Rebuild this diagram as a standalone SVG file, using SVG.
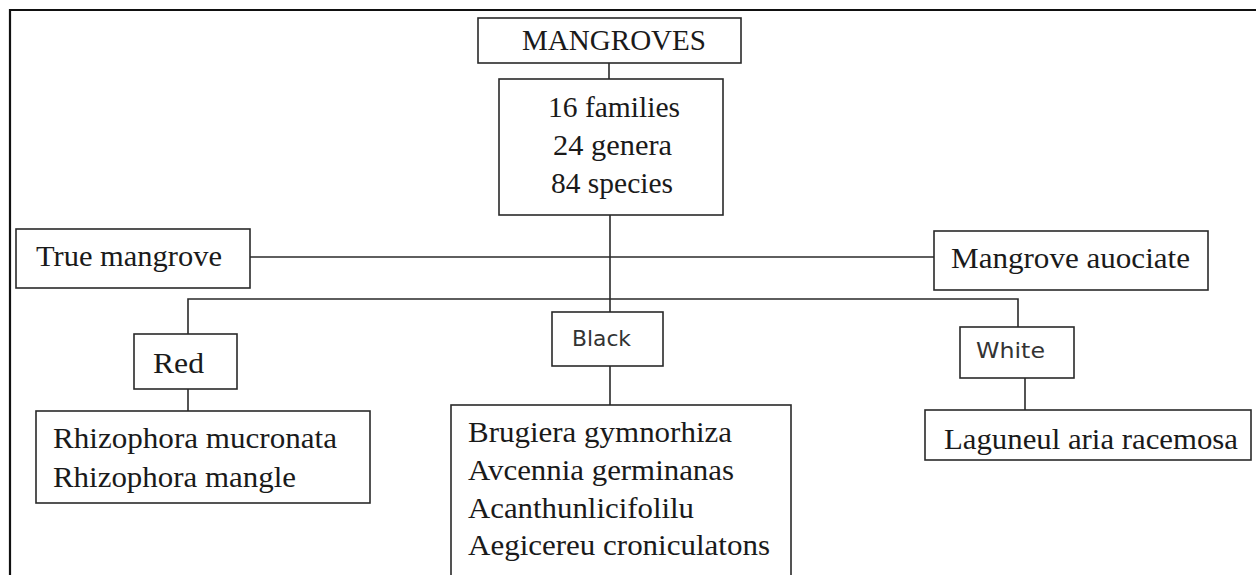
<svg xmlns="http://www.w3.org/2000/svg" width="1256" height="575" viewBox="0 0 1256 575">
<style>
  .box { fill: #fff; stroke: #2a2a2a; stroke-width: 1.6; }
  .conn line, .conn path { stroke: #2a2a2a; stroke-width: 1.6; fill: none; }
  .t { font-family: 'Liberation Serif', 'DejaVu Serif', serif; font-size: 30px; fill: #1a1a1a; }
  .s { font-family: 'DejaVu Sans', sans-serif; font-size: 22px; fill: #333; }
  .frame { stroke: #111; stroke-width: 2.2; fill: none; }
</style>
<rect width="1256" height="575" fill="#fff"/>
<path class="frame" d="M10 575 V10 H1256"/>

<g id="connectors" class="conn">
  <line x1="609" y1="63" x2="609" y2="79"/>
  <line x1="610" y1="215" x2="610" y2="312"/>
  <line x1="250" y1="257" x2="934" y2="257"/>
  <path d="M188 334 V299 H1018 V327"/>
  <line x1="188" y1="389" x2="188" y2="411"/>
  <line x1="610" y1="366" x2="610" y2="405"/>
  <line x1="1025" y1="378" x2="1025" y2="410"/>
</g>

<g id="node-mangroves">
  <rect class="box" x="478" y="18" width="263" height="45"/>
  <text class="t" x="522" y="50" textLength="184" lengthAdjust="spacingAndGlyphs">MANGROVES</text>
</g>

<g id="node-counts">
  <rect class="box" x="499" y="79" width="224" height="136"/>
  <text class="t" x="548" y="117" textLength="132" lengthAdjust="spacingAndGlyphs">16 families</text>
  <text class="t" x="553" y="155" textLength="119" lengthAdjust="spacingAndGlyphs">24 genera</text>
  <text class="t" x="551" y="193" textLength="122" lengthAdjust="spacingAndGlyphs">84 species</text>
</g>

<g id="node-true">
  <rect class="box" x="16" y="229" width="234" height="59"/>
  <text class="t" x="36" y="266" textLength="186" lengthAdjust="spacingAndGlyphs">True mangrove</text>
</g>

<g id="node-associate">
  <rect class="box" x="934" y="231" width="274" height="59"/>
  <text class="t" x="951" y="268" textLength="239" lengthAdjust="spacingAndGlyphs">Mangrove auociate</text>
</g>

<g id="node-red">
  <rect class="box" x="134" y="334" width="103" height="55"/>
  <text class="t" x="153" y="373" textLength="51" lengthAdjust="spacingAndGlyphs">Red</text>
</g>

<g id="node-black">
  <rect class="box" x="552" y="312" width="111" height="54"/>
  <text class="s" x="572" y="346" textLength="59" lengthAdjust="spacingAndGlyphs">Black</text>
</g>

<g id="node-white">
  <rect class="box" x="960" y="327" width="114" height="51"/>
  <text class="s" x="976" y="358" textLength="69" lengthAdjust="spacingAndGlyphs">White</text>
</g>

<g id="node-rhizophora">
  <rect class="box" x="36" y="411" width="334" height="92"/>
  <text class="t" x="53" y="448" textLength="284" lengthAdjust="spacingAndGlyphs">Rhizophora mucronata</text>
  <text class="t" x="53" y="487" textLength="243" lengthAdjust="spacingAndGlyphs">Rhizophora mangle</text>
</g>

<g id="node-black-species">
  <rect class="box" x="451" y="405" width="340" height="190"/>
  <text class="t" x="468" y="442" textLength="264" lengthAdjust="spacingAndGlyphs">Brugiera gymnorhiza</text>
  <text class="t" x="468" y="480" textLength="266" lengthAdjust="spacingAndGlyphs">Avcennia germinanas</text>
  <text class="t" x="468" y="518" textLength="226" lengthAdjust="spacingAndGlyphs">Acanthunlicifolilu</text>
  <text class="t" x="468" y="555" textLength="302" lengthAdjust="spacingAndGlyphs">Aegicereu croniculatons</text>
</g>

<g id="node-laguncularia">
  <rect class="box" x="925" y="410" width="326" height="50"/>
  <text class="t" x="944" y="449" textLength="294" lengthAdjust="spacingAndGlyphs">Laguneul aria racemosa</text>
</g>
</svg>
